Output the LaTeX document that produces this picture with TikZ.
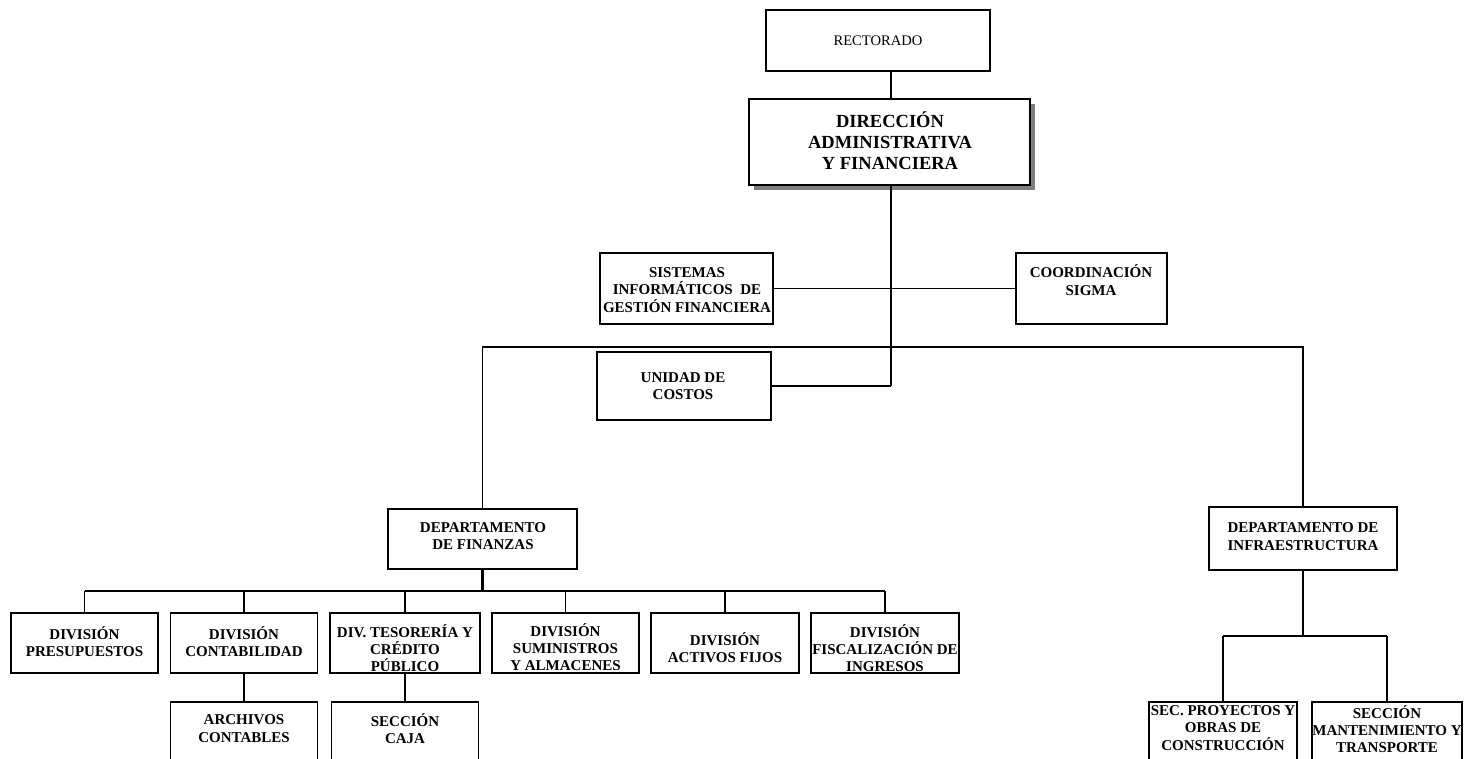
\documentclass[tikz,border=0pt]{standalone}
\usepackage{fontspec}
\setmainfont{Liberation Serif}
\usetikzlibrary{shadows}
\begin{document}
\begin{tikzpicture}[x=1pt,y=-1pt,
  box/.style={draw, line width=1.3pt, rectangle, inner sep=0pt, fill=white},
  lbl/.style={font=\fontsize{15}{17.3}\selectfont\bfseries, align=center, inner sep=0pt},
  wire/.style={line width=1.3pt},
  wirem/.style={line width=1.8pt},
  trunkline/.style={line width=2.5pt}]

\useasboundingbox (0,0) rectangle (1465,759);
\clip (0,0) rectangle (1465,759);

% ---- top of the chart ----
\node[box, minimum width=224, minimum height=61] (rect) at (878,40.5) {};
\node[font=\fontsize{14.6}{17}\selectfont, inner sep=0pt] (rect-t) at (878,40.5) {RECTORADO};

\node[box, minimum width=281, minimum height=86,
      general shadow={fill=black!50, shadow xshift=5pt, shadow yshift=-5pt}] (dir) at (889.5,142) {};
\node[font=\fontsize{18.5}{21}\selectfont\bfseries, align=center, inner sep=0pt] (dir-t) at (890,141)
  {DIRECCIÓN\\ADMINISTRATIVA\\Y FINANCIERA};

\coordinate (tx) at (891,0);

% ---- staff units ----
\node[box, minimum width=173, minimum height=71] (sis) at (686.5,288.5) {};
\node[lbl] (sis-t) at (687,290) {SISTEMAS\\INFORMÁTICOS \ DE\\GESTIÓN FINANCIERA};

\node[box, minimum width=151, minimum height=71] (coord) at (1091.5,288.5) {};
\node[lbl] (coord-t) at (1091,280) {COORDINACIÓN\\SIGMA};

\node[box, minimum width=174, minimum height=68] (cost) at (684,386) {};
\node[lbl] (cost-t) at (683,386) {UNIDAD DE\\COSTOS};

% ---- departments ----
\node[box, minimum width=189, minimum height=60] (fin) at (482.5,539) {};
\node[lbl] (fin-t) at (483,536) {DEPARTAMENTO\\DE FINANZAS};

\node[box, minimum width=188, minimum height=63] (infra) at (1303,538.5) {};
\node[lbl] (infra-t) at (1303,536.5) {DEPARTAMENTO DE\\INFRAESTRUCTURA};

% ---- divisions ----
\node[box, minimum width=147, minimum height=60] (presu) at (84.5,643) {};
\node[lbl] (presu-t) at (84.5,641.5) {DIVISIÓN\\PRESUPUESTOS};

\node[box, minimum width=147, minimum height=60] (conta) at (244,643) {};
\node[lbl] (conta-t) at (244,641.5) {DIVISIÓN\\CONTABILIDAD};

\node[box, minimum width=150, minimum height=60] (teso) at (405,643) {};
\node[lbl] (teso-t) at (405,648) {DIV. TESORERÍA Y\\CRÉDITO\\PÚBLICO};

\node[box, minimum width=147, minimum height=60] (sumi) at (565.5,643) {};
\node[lbl] (sumi-t) at (565.5,647) {DIVISIÓN\\SUMINISTROS\\Y ALMACENES};

\node[box, minimum width=148, minimum height=60] (activ) at (725,643) {};
\node[lbl] (activ-t) at (725,647.5) {DIVISIÓN\\ACTIVOS FIJOS};

\node[box, minimum width=148, minimum height=60] (fisc) at (885,643) {};
\node[lbl] (fisc-t) at (885,648) {DIVISIÓN\\FISCALIZACIÓN DE\\INGRESOS};

% ---- sections (run past the lower edge) ----
\node[box, minimum width=147, minimum height=80] (arch) at (244,742) {};
\node[lbl] (arch-t) at (244,728.5) {ARCHIVOS\\CONTABLES};

\node[box, minimum width=147, minimum height=80] (caja) at (405,742) {};
\node[lbl] (caja-t) at (405,728.5) {SECCIÓN\\CAJA};

\node[box, minimum width=148, minimum height=80] (proy) at (1223,742) {};
\node[lbl] (proy-t) at (1223,728) {SEC. PROYECTOS Y\\OBRAS DE\\CONSTRUCCIÓN};

\node[box, minimum width=150, minimum height=80] (mant) at (1387,742) {};
\node[lbl] (mant-t) at (1387,729) {SECCIÓN\\MANTENIMIENTO Y\\TRANSPORTE};

% ---- connectors ----
\coordinate (bus1) at (0,347);
\coordinate (bus2) at (0,591);
\coordinate (bus3) at (0,636);
\coordinate (jc) at (891,386);

\draw[wire] (rect.south -| tx) -- (dir.north -| tx);
\draw[trunkline] (dir.south -| tx) -- (jc);
\draw[wire] (sis.east) -- (sis.east -| tx);
\draw[wirem] (sis.east -| tx) -- (coord.west);
\draw[wirem] (cost.east) -- (jc);

\draw[wire] (fin.north) -- (fin.north |- bus1) -- (infra.north |- bus1) -- (infra.north);

\draw[trunkline] (fin.south) -- (fin.south |- bus2);
\draw[wirem] (presu.north |- bus2) -- (fisc.north |- bus2);
\foreach \n in {presu,conta,teso,sumi,activ,fisc}
  \draw[wire] (\n.north) -- (\n.north |- bus2);

\draw[wire] (conta.south) -- (arch.north);
\draw[wire] (teso.south) -- (caja.north);

\draw[wirem] (infra.south) -- (infra.south |- bus3);
\draw[wirem] (proy.north |- bus3) -- (mant.north |- bus3);
\draw[wirem] (proy.north |- bus3) -- (proy.north);
\draw[wirem] (mant.north |- bus3) -- (mant.north);

\end{tikzpicture}
\end{document}
